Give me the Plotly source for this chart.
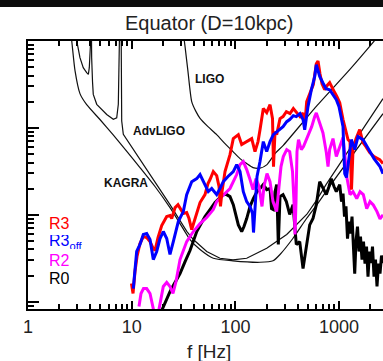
import plotly.graph_objects as go

# ---------------------------------------------------------------------------
# Characteristic GW strain spectra, equatorial observer at D = 10 kpc.
# Frequencies in Hz, strain in units of 1e-22.
# ---------------------------------------------------------------------------

# Detector sensitivity curves
f_ligo = [30.9, 32.7, 34.9, 37.9, 41.7, 45.6, 54.4, 66.0, 79.4, 94.8, 110.8, 128.5,
          147.8, 172.7, 200.4, 241, 288, 603, 1265, 1973, 2270]
h_ligo = [146, 86.0, 44.4, 20.1, 15.4, 12.9, 10.35, 8.37, 6.60, 5.34, 4.44, 3.89,
          3.50, 3.45, 3.76, 5.07, 6.26, 17.7, 46.8, 86.7, 106]

f_kagra = [2.54, 2.64, 2.84, 3.17, 3.68, 4.94, 6.60, 9.01, 12.02, 16.78, 23.4, 29.24,
           36.5, 45.6, 61.2, 94.8, 172.7, 230.5, 269.2, 359.4, 486.9, 612, 873, 2650]
h_kagra = [146, 100.8, 45.6, 24.8, 18.5, 12.5, 8.37, 5.34, 3.50, 2.12, 1.21, 0.794,
           0.520, 0.399, 0.317, 0.296, 0.285, 0.296, 0.350, 0.538, 0.914, 1.31, 2.41, 14.6]

f_adv = [2.88, 2.95, 3.17, 3.41, 3.68, 3.82, 3.90, 3.96, 4.02, 4.035,
         4.05, 4.11, 4.19, 4.26, 4.60, 5.74, 6.65, 7.17, 7.43, 7.59,
         7.80, 7.86, 7.92, 8.01, 8.30, 9.63, 12.94, 16.78, 23.4, 34.1,
         39.3, 52.9, 71.0, 94.8, 128.5, 200.4, 312.5, 486.9, 612, 748, 2650]
h_adv = [1000, 100.8, 64.3, 49.3, 43.2, 41.3, 49.3, 70.2, 100.8, 1000,
         100.8, 64.3, 34.0, 24.3, 18.7, 14.3, 12.6, 13.1, 18.7, 45.2,
         100, 1000, 100.8, 12.0, 8.44, 6.48, 3.82, 2.35, 1.31, 0.643,
         0.520, 0.379, 0.317, 0.304, 0.317, 0.413, 0.594, 1.01, 1.50, 2.23, 21.7]

# Model spectra
f_r3 = [9.95, 10.3, 10.76, 11.25, 12.02, 12.94, 13.95, 15.02, 16.15, 16.78, 17.93, 19.47,
        21.76, 23.4, 24.3, 26.2, 27.96, 29.24, 31.45, 33.9, 35.7, 37.9, 39.9, 42.4, 45.6,
        50.9, 54.4, 56.9, 61.2, 66.0, 69.5, 71.8, 74.3, 79.4, 84.8, 88.7, 95.4, 106.7, 115,
        128.5, 143.6, 154.5, 165.2, 172.7, 185.8, 200.4, 215.7, 228, 233, 241, 250, 269.2,
        288, 310, 336, 362, 393, 420, 449, 466, 487, 524, 564, 603, 626, 654, 684, 726,
        764, 811, 854, 907, 954, 1014, 1091, 1140, 1218, 1274, 1317, 1362, 1455, 1580,
        1700, 1816, 1973, 2171, 2464, 2650]
h_r3 = [0.162, 0.1246, 0.223, 0.332, 0.468, 0.563, 0.548, 0.493, 0.41, 0.389, 0.548, 0.753,
        0.956, 0.982, 0.907, 1.21, 1.31, 1.21, 1.035, 1.06, 0.907, 0.678, 0.838, 1.035, 1.385,
        1.71, 2.29, 2.55, 3.15, 2.83, 2.12, 1.25, 1.85, 3.15, 4.10, 4.93, 7.53, 8.37, 6.43,
        6.96, 7.53, 5.34, 6.96, 9.56, 16.7, 15.0, 18.5, 12.8, 3.59, 9.07, 8.37, 12.8,
        13.5, 15.4, 14.6, 16.7, 14.6, 13.5, 14.9, 10.6, 20.1, 24.8, 31.5, 54.8, 58.9, 42.0, 32.2, 27.5,
        30.6, 33.2, 29.0, 25.5, 22.9, 19.5, 12.5, 10.35, 7.34, 6.96, 1.95, 5.63, 7.53, 9.55,
        6.78, 6.10, 5.20, 4.68, 4.32, 3.89]

f_r3off = [10.36, 10.76, 11.17, 12.02, 12.94, 13.95, 15.02, 16.15, 17.42, 18.75, 20.17, 21.76,
           23.4, 25.19, 28.14, 31.45, 33.9, 37.9, 42.4, 45.6, 49.0, 54.8, 59.1, 66.0, 71.0,
           76.4, 84.8, 95.4, 102.9, 110.8, 119.2, 128.5, 138.3, 146.2, 149.5, 154.5, 161.6,
           172.7, 185.8, 200.4, 215.7, 232.1, 269.2, 288, 312.5, 333.9, 361.8, 386.6, 419.8,
           449, 466, 501, 540, 582, 603, 650, 699, 748, 811, 873, 940, 998, 1050, 1091, 1115,
           1133, 1178, 1218, 1312, 1414, 1521, 1700, 1816, 1973, 2171, 2480, 2650]
h_r3off = [0.142, 0.223, 0.379, 0.456, 0.594, 0.61, 0.520, 0.306, 0.379, 0.534, 0.643, 0.534,
           0.350, 0.493, 0.838, 1.09, 1.71, 2.41, 2.61, 2.91, 2.41, 1.85, 2.01, 1.71, 2.01,
           2.41, 2.76, 3.15, 3.79, 3.15, 1.85, 1.42, 1.25, 1.035, 0.626, 1.25, 2.76,
           4.10, 6.96, 5.34, 6.96, 8.37, 9.82, 10.35, 11.8, 12.5, 13.85, 13.5, 14.6,
           12.5, 9.55, 17.6, 27.5, 39.2, 53.4, 39.2, 32.9, 28.3, 27.5, 24.1, 21.1, 17.6, 13.5, 10.35, 4.68,
           2.98, 2.69, 3.59, 7.34, 5.63, 7.94, 7.34, 6.43, 5.34, 4.44, 3.59, 2.98]

f_r2 = [11.76, 12.29, 12.99, 13.95, 15.02, 15.70, 16.6, 17.93, 18.96, 20.17, 21.76, 23.4,
        25.0, 26.74, 29.24, 33.9, 39.3, 45.6, 52.9, 61.2, 66.0, 76.4, 88.7, 102.9, 110.8,
        119.2, 128.5, 138.3, 147.8, 158, 169, 180.5, 188.7, 201.7, 215.7, 230.5, 250, 263.3,
        275.3, 289.7, 312.5, 333.9, 355.4, 367.3, 375.6, 384, 392.6, 406, 432, 453.6, 482.7,
        544, 582, 603, 650, 699, 753, 782, 811, 873, 940, 1014, 1091, 1140, 1184, 1274, 1362,
        1479, 1591, 1712, 1846, 1986, 2137, 2320, 2480, 2650]
h_r2 = [0.0883, 0.1246, 0.142, 0.142, 0.1246, 0.101, 0.0715, 0.0715, 0.106, 0.15, 0.167, 0.15,
        0.1246, 0.171, 0.306, 0.493, 0.643, 0.794, 0.931, 1.15, 1.42, 1.71, 2.01, 2.91, 3.79,
        4.10, 3.32, 2.55, 1.95, 2.61, 2.12, 1.25, 2.12, 2.98, 2.41, 1.42, 1.09, 2.12,
        3.59, 4.68, 5.63, 5.34, 3.15, 1.42, 0.594, 1.42, 5.34, 7.34, 5.63, 6.10, 7.34,
        10.35, 13.5, 14.9, 11.4, 8.76, 5.20, 3.59, 5.63, 7.53, 4.68, 6.10, 7.74, 4.68, 2.76, 1.71, 1.85,
        1.54, 1.85, 1.71, 1.18, 1.42, 1.30, 1.09, 0.9, 1.0]

f_r0 = [18.75, 20.17, 21.9, 23.4, 25.19, 27.16, 29.24, 32.7, 36.5, 42.4, 45.6, 50.9, 56.9,
        63.6, 71.0, 77.6, 82.4, 88.7, 95.4, 101.3, 106.7, 115, 121, 128.5, 138.3, 148.8,
        161.6, 172.7, 185.8, 200.4, 215.7, 223, 232.1, 241, 250, 259.3, 269.2, 288, 310,
        333.9, 359.4, 386.6, 417, 449, 482.7, 520.6, 560, 603, 650, 699, 753, 799, 841, 893,
        940, 1014, 1055, 1091, 1127, 1165, 1205, 1246, 1288, 1332, 1377, 1414, 1455, 1504,
        1556, 1608, 1663, 1719, 1777, 1838, 1900, 1965, 2031, 2099, 2171, 2244, 2320, 2399,
        2480, 2564, 2650]
h_r0 = [0.0715, 0.0883, 0.112, 0.131, 0.154, 0.18, 0.211, 0.290, 0.389, 0.643, 0.753, 0.956, 1.15,
        1.385, 1.58, 1.71, 1.71, 1.62, 1.31, 1.01, 0.767, 0.643, 0.734, 0.907, 1.25, 1.54,
        1.85, 2.01, 2.23, 1.95, 2.01, 1.18, 1.15, 1.85, 2.23, 0.456, 1.62, 1.71, 1.42,
        1.01, 1.31, 0.456, 0.493, 0.241, 0.41, 0.767, 0.907, 1.31, 2.41, 2.01, 1.71, 2.12, 2.61, 2.12,
        1.85, 2.23, 1.42, 1.76, 0.956, 1.25, 0.532, 0.838, 0.61, 0.956, 0.432, 0.211, 0.493, 0.734,
        0.379, 0.563, 0.306, 0.493, 0.275, 0.432, 0.195, 0.379, 0.278, 0.432, 0.195, 0.306, 0.15, 0.275,
        0.211, 0.34, 0.278]

# Axis ticks
x_major = [1, 10, 100, 1000]
x_labels = ["1", "10", "100", "1000"]
x_minor = [m * d for d in (1, 10, 100, 1000) for m in range(2, 10) if m * d < 3000]
y_major = [0.1, 1, 10, 100]
y_minor = [m * d for d in (0.01, 0.1, 1, 10) for m in range(2, 10) if m * d > 0.08]

FONT = "Liberation Sans, Arial, sans-serif"

fig = go.Figure()

det_line = dict(color="#111111", width=1.2)
fig.add_trace(go.Scatter(x=f_kagra, y=h_kagra, mode="lines",
                         line=dict(det_line, shape="spline", smoothing=0.6)))
fig.add_trace(go.Scatter(x=f_adv, y=h_adv, mode="lines", line=det_line))
fig.add_trace(go.Scatter(x=f_ligo, y=h_ligo, mode="lines",
                         line=dict(det_line, shape="spline", smoothing=0.6)))

spec_w = 3
fig.add_trace(go.Scatter(x=f_r0, y=h_r0, mode="lines", line=dict(color="#000000", width=spec_w)))
fig.add_trace(go.Scatter(x=f_r2, y=h_r2, mode="lines", line=dict(color="#ff00ff", width=spec_w)))
fig.add_trace(go.Scatter(x=f_r3, y=h_r3, mode="lines", line=dict(color="#ff0000", width=spec_w)))
fig.add_trace(go.Scatter(x=f_r3off, y=h_r3off, mode="lines", line=dict(color="#0000ff", width=spec_w)))

fig.update_traces(hoverinfo="skip")

# Plot-area geometry (pixels)
L, R, T, B = 28, 0, 41, 52
W, H = 383, 361
PW, PH = W - L - R, H - T - B


def px_x(px):
    return (px - L) / PW


def px_y(py):
    return 1 - (py - T) / PH


annotations = [
    dict(text="Equator (D=10kpc)", x=px_x(209), y=px_y(22.5), xref="paper", yref="paper",
         showarrow=False, font=dict(family=FONT, size=20, color="#222222"),
         xanchor="center", yanchor="middle"),
    dict(text="f [Hz]", x=px_x(209), y=px_y(351), xref="paper", yref="paper",
         showarrow=False, font=dict(family=FONT, size=19, color="#222222"),
         xanchor="center", yanchor="middle"),
    dict(text="<b>LIGO</b>", x=px_x(209), y=px_y(70), xref="paper", yref="paper",
         showarrow=False, font=dict(family=FONT, size=12, color="#111111")),
    dict(text="<b>AdvLIGO</b>", x=px_x(159), y=px_y(131), xref="paper", yref="paper",
         showarrow=False, font=dict(family=FONT, size=12, color="#111111")),
    dict(text="<b>KAGRA</b>", x=px_x(101.5), y=px_y(183), xref="paper", yref="paper",
         showarrow=False, font=dict(family=FONT, size=12, color="#111111")),
]

legend_items = [("R3", "#ff0000", 223), ("R3<sub>off</sub>", "#0000ff", 242),
                ("R2", "#ff00ff", 260), ("R0", "#000000", 278)]
for txt, col, yc in legend_items:
    annotations.append(dict(text=txt, x=px_x(47), y=px_y(yc), xref="paper", yref="paper",
                            showarrow=False, xanchor="left", yanchor="middle",
                            height=14, valign="middle",
                            font=dict(family=FONT, size=16, color=col)))

fig.update_layout(
    width=W, height=H,
    margin=dict(l=L, r=R, t=T, b=B, pad=0),
    paper_bgcolor="white", plot_bgcolor="white",
    showlegend=False,
    annotations=annotations,
    shapes=[dict(type="rect", xref="paper", yref="paper", x0=px_x(0), x1=1.0,
                 y0=px_y(7), y1=px_y(0), fillcolor="#0d0d0d",
                 line=dict(width=0, color="#0d0d0d"), layer="above")],
    xaxis=dict(type="log", range=[0, 3.4233], showgrid=False, zeroline=False,
               showline=True, linecolor="black", linewidth=2, mirror="ticks",
               ticks="inside", ticklen=8, tickwidth=1.5, tickcolor="black",
               tickmode="array", tickvals=x_major, ticktext=x_labels,
               tickfont=dict(family=FONT, size=18, color="#222222"),
               minor=dict(tickmode="array", tickvals=x_minor, ticks="inside",
                          ticklen=5, tickwidth=1.5, tickcolor="black", showgrid=False)),
    yaxis=dict(type="log", range=[-1.083, 2.0], showgrid=False, zeroline=False,
               showline=True, linecolor="black", linewidth=2, mirror=False,
               ticks="inside", ticklen=11, tickwidth=1.5, tickcolor="black",
               tickmode="array", tickvals=y_major, showticklabels=False,
               minor=dict(tickmode="array", tickvals=y_minor, ticks="inside",
                          ticklen=6, tickwidth=1.5, tickcolor="black", showgrid=False)),
    yaxis2=dict(type="log", range=[-1.083, 2.0], overlaying="y", side="right", anchor="x",
                showgrid=False, zeroline=False, showline=False, ticks="inside",
                ticklen=6, tickwidth=1.5, tickcolor="black", tickmode="array",
                tickvals=y_major, showticklabels=False),
)

fig.write_html("out.html")
